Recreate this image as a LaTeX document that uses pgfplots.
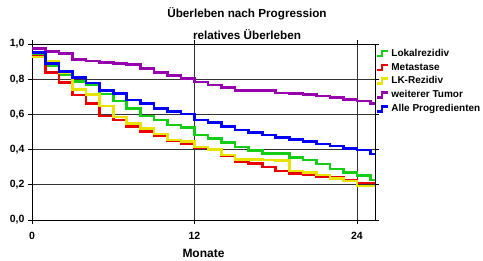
\documentclass[border=0pt]{standalone}
\usepackage{fontspec}
\setmainfont{Liberation Sans}
\usepackage{pgfplots}
\pgfplotsset{compat=1.18}
\definecolor{cgreen}{RGB}{20,205,20}
\definecolor{cred}{RGB}{235,0,0}
\definecolor{cyellow}{RGB}{232,228,0}
\definecolor{cpurple}{RGB}{150,0,175}
\definecolor{cblue}{RGB}{0,0,250}
\begin{document}
\begin{tikzpicture}
\useasboundingbox (-32pt,-41pt) rectangle (451pt,220pt);
\begin{axis}[
  at={(0pt,0pt)}, anchor=origin,
  scale only axis, width=343pt, height=176pt,
  xmin=0, xmax=25.33, ymin=0, ymax=1,
  xtick={0,12,24}, ytick={0,0.2,0.4,0.6,0.8,1},
  /pgf/number format/assume math mode=true,
  yticklabel style={/pgf/number format/.cd,use comma,fixed,fixed zerofill,precision=1},
  ticklabel style={font=\bfseries\fontsize{10.5}{12}\selectfont},
  xticklabel style={yshift=-5pt},
  tick align=outside, major tick length=4pt,
  tick style={black, line width=0.8pt},
  xmajorgrids, ymajorgrids,
  grid style={black!80, line width=0.8pt},
  axis line style={black, line width=0.9pt},
  xlabel={Monate}, xlabel style={font=\bfseries\fontsize{12}{13}\selectfont, yshift=-2pt},
  legend style={at={(1,1)}, anchor=north west, draw=none, fill=none,
    font=\bfseries\fontsize{10}{12}\selectfont, inner sep=1pt, row sep=1.2pt,
    xshift=0pt, yshift=-2pt},
  legend cell align=left,
  legend image code/.code={\draw[#1, line width=2.2pt] (0pt,-2.5pt) -- (4.5pt,-2.5pt) -- (4.5pt,2.5pt) -- (11pt,2.5pt);},
  every axis plot/.append style={const plot, line width=2.6pt, line join=miter},
]
\addplot[cgreen] coordinates {
(0,0.945)(1,0.877)(2,0.826)(3,0.786)(4,0.768)(5,0.716)(6,0.677)(7,0.635)(8,0.59)(9,0.568)
(10,0.54)(11,0.525)(12,0.483)(13,0.462)(14,0.442)(15,0.415)(16,0.394)(17,0.379)(18,0.379)(19,0.356)
(20,0.341)(21,0.318)(22,0.29)(23,0.27)(24,0.252)(25,0.227)(25.33,0.227)};
\addlegendentry{Lokalrezidiv}
\addplot[cred] coordinates {
(0,0.93)(1,0.838)(2,0.78)(3,0.71)(4,0.663)(5,0.59)(6,0.568)(7,0.53)(8,0.502)(9,0.477)
(10,0.45)(11,0.432)(12,0.41)(13,0.398)(14,0.366)(15,0.332)(16,0.322)(17,0.302)(18,0.278)(19,0.265)
(20,0.256)(21,0.246)(22,0.24)(23,0.227)(24,0.21)(25,0.21)(25.33,0.21)};
\addlegendentry{Metastase}
\addplot[cyellow] coordinates {
(0,0.927)(1,0.902)(2,0.836)(3,0.743)(4,0.713)(5,0.648)(6,0.585)(7,0.548)(8,0.519)(9,0.488)
(10,0.455)(11,0.447)(12,0.415)(13,0.4)(14,0.369)(15,0.345)(16,0.343)(17,0.341)(18,0.338)(19,0.278)
(20,0.269)(21,0.256)(22,0.237)(23,0.222)(24,0.193)(25,0.193)(25.33,0.193)};
\addlegendentry{LK-Rezidiv}
\addplot[cpurple] coordinates {
(0,0.975)(1,0.956)(2,0.947)(3,0.912)(4,0.903)(5,0.896)(6,0.89)(7,0.884)(8,0.86)(9,0.837)
(10,0.82)(11,0.805)(12,0.783)(13,0.766)(14,0.754)(15,0.737)(16,0.737)(17,0.737)(18,0.722)(19,0.718)
(20,0.712)(21,0.705)(22,0.697)(23,0.686)(24,0.676)(25,0.663)(25.33,0.663)};
\addlegendentry{weiterer Tumor}
\addplot[cblue] coordinates {
(0,0.95)(1,0.89)(2,0.845)(3,0.81)(4,0.778)(5,0.735)(6,0.718)(7,0.682)(8,0.661)(9,0.635)
(10,0.616)(11,0.602)(12,0.568)(13,0.555)(14,0.532)(15,0.512)(16,0.497)(17,0.483)(18,0.47)(19,0.458)
(20,0.446)(21,0.432)(22,0.42)(23,0.407)(24,0.398)(25,0.375)(25.33,0.375)};
\addlegendentry{Alle Progredienten}
\end{axis}
\node[font=\bfseries\fontsize{11.7}{14}\selectfont] at (215pt,206pt) {Überleben nach Progression};
\node[font=\bfseries\fontsize{11.7}{14}\selectfont] at (215pt,185pt) {relatives Überleben};
\end{tikzpicture}
\end{document}
